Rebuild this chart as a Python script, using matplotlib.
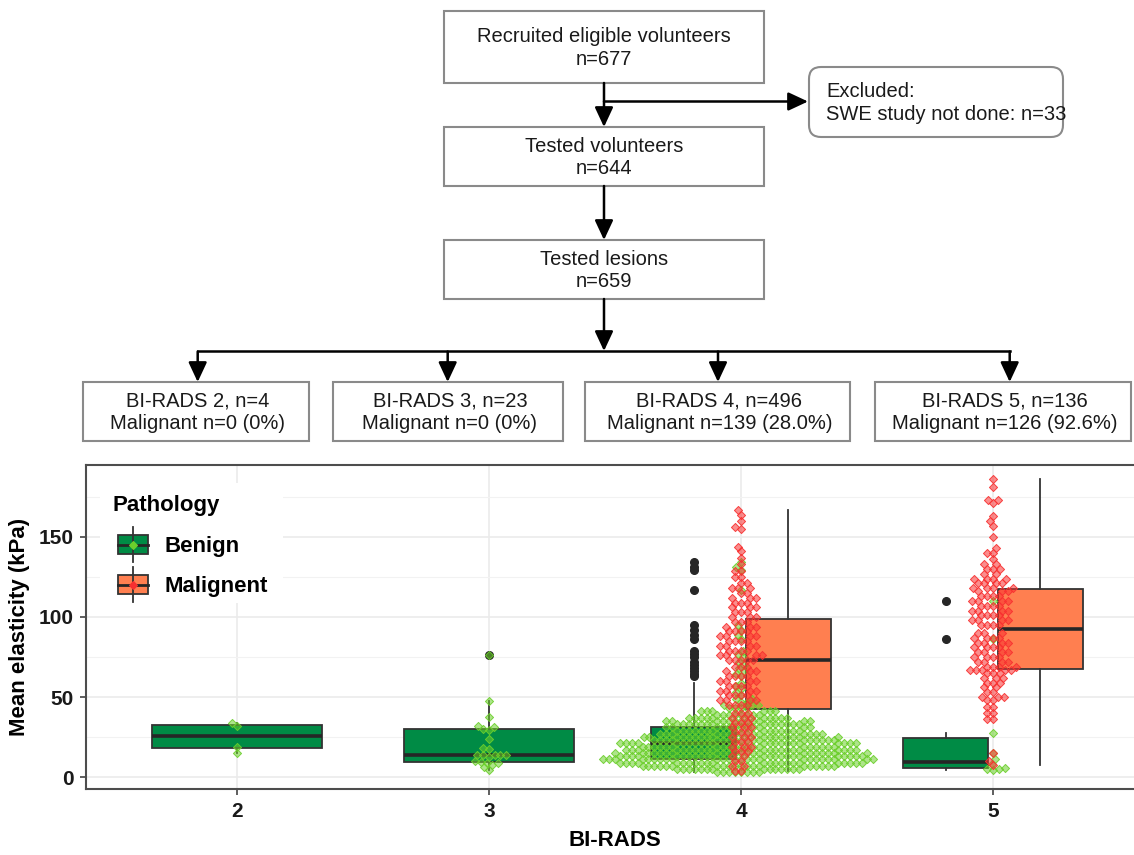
import numpy as np
import matplotlib
matplotlib.use("Agg")
import matplotlib.pyplot as plt
from matplotlib.patches import Rectangle, FancyBboxPatch, ArrowStyle

plt.rcParams['font.family'] = ['Liberation Sans', 'DejaVu Sans']

# ---- data ----
birads = ['2', '3', '4', '5']
n_lesions = [4, 23, 496, 136]
n_malignant = [0, 0, 139, 126]

flow_steps = ['Recruited eligible volunteers\nn=677', 'Tested volunteers\nn=644', 'Tested lesions\nn=659']
excluded_text = 'Excluded:\nSWE study not done: n=33'

benign_2 = [15, 19, 32, 34]
benign_3 = [4.5, 6, 7.5, 8.5, 9, 9.5, 9.7, 12.5, 13.5, 13.75, 13.75, 13.75, 14, 17.5, 18, 24,
            29.5, 30, 31, 32, 37.5, 47.5, 76]
benign_4_vals = [3, 5, 7, 9, 11, 13, 15, 17, 19, 21, 23, 25, 27, 29, 31, 33, 35, 37, 39, 41, 43, 45,
                 47, 49, 51, 53, 55, 57, 59, 63, 64.5, 66, 68, 70, 72, 75, 77, 79, 86, 89, 92, 95,
                 117, 129.4, 131.5, 134.6]
benign_4_counts = [8, 14, 20, 23, 25, 23, 22, 21, 20, 22, 18, 17, 15, 14, 12, 14, 12, 10, 8, 6, 4, 3,
                   2, 2, 1, 1, 1, 1, 1] + [1] * 17
benign_5 = [4.4, 5.0, 5.3, 5.7, 8.0, 11.2, 14.9, 27.3, 86.5, 110]

malig_4_vals = [4, 7, 10, 13, 16, 19, 22, 25, 28, 31, 34, 37, 40, 45, 48, 51, 54, 57, 60, 63, 66, 69,
                73, 76, 79, 82, 85, 88, 91, 94, 97, 100, 103, 106, 109, 112, 115, 118, 121, 125, 129,
                133, 137, 141, 144, 155, 156, 160, 164, 167]
malig_4_counts = [2, 2, 2, 2, 3, 3, 3, 3, 3, 3, 3, 3, 3, 4, 4, 4, 4, 4, 4, 4, 3, 3,
                  5, 4, 4, 4, 4, 4, 4, 3, 3, 3, 3, 3, 3, 3, 2, 3, 2, 2, 2,
                  1, 1, 1, 1, 1, 1, 1, 1, 1]
malig_5_vals = [7.5, 10, 15, 36, 40, 44, 48, 50, 53, 56, 59, 62, 65, 67, 69, 72, 75, 78, 81, 84, 87, 90,
                95, 98, 101, 104, 107, 110, 113, 116, 118, 121, 124, 127, 130, 133, 136, 140, 143, 150,
                157, 160, 163, 171, 173, 181, 186]
malig_5_counts = [1, 1, 1, 2, 2, 2, 2, 3, 2, 2, 3, 3, 3, 5, 4, 4, 4, 4, 4, 4, 4, 3,
                  4, 4, 4, 4, 4, 4, 4, 3, 4, 4, 4, 2, 3, 2, 1, 2, 1, 1, 1, 1, 1, 1, 2, 1, 1]

benign_4 = np.repeat(benign_4_vals, benign_4_counts)
malig_4 = np.repeat(malig_4_vals, malig_4_counts)
malig_5 = np.repeat(malig_5_vals, malig_5_counts)

benign = [benign_2, benign_3, benign_4, benign_5]
malignant = {2: malig_4, 3: malig_5}

box_green = '#008B45'
box_coral = '#FF7F50'
pt_green = '#6CCF2C'
pt_red = '#F83030'
dark = '#333333'

W, H = 1134, 855
fig = plt.figure(figsize=(W / 100, H / 100), dpi=100)
ax = fig.add_axes([85.8 / W, (H - 789) / H, 1058.4 / W, 324 / H])
ax.set_xlim(-0.6, 3.6)
ax.set_ylim(-7.5, 195)

# ---- boxplots (dodged) ----
dodge = 0.1875
b_pos = [0, 1, 2 - dodge, 3 - dodge]
b_w = [0.675, 0.675, 0.3375, 0.3375]
m_pos = [2 + dodge, 3 + dodge]
common = dict(patch_artist=True, showcaps=False, whis=1.5, manage_ticks=False,
              medianprops=dict(color='#262626', lw=2.6),
              boxprops=dict(edgecolor=dark, lw=1.3),
              whiskerprops=dict(color=dark, lw=1.3),
              flierprops=dict(marker='o', markerfacecolor='#262626', markeredgecolor='#262626',
                              markersize=5.5))
bp1 = ax.boxplot(benign, positions=b_pos, widths=b_w, **common)
bp2 = ax.boxplot([malig_4, malig_5], positions=m_pos, widths=[0.3375, 0.3375], **common)
for p in bp1['boxes']:
    p.set_facecolor(box_green)
for p in bp2['boxes']:
    p.set_facecolor(box_coral)

# ---- beeswarm points ----
px_x = ax.bbox.width / 4.2
px_y = ax.bbox.height / 202.5


def swarm_offsets(values, d=5.9):
    y = np.asarray(values, float) * px_y
    order = np.argsort(y, kind='stable')
    xs = np.zeros(len(y))
    done = []
    for i in order:
        near = [(px, py) for px, py in done if abs(py - y[i]) < d]
        cands = [0.0]
        for px, py in near:
            dx = np.sqrt(d * d - (py - y[i]) ** 2)
            cands += [px - dx, px + dx]
        cands.sort(key=abs)
        for c in cands:
            if all((c - px) ** 2 + (y[i] - py) ** 2 >= d * d - 1e-6 for px, py in near):
                break
        xs[i] = c
        done.append((c, y[i]))
    return xs / px_x


def draw_swarm(values, center, color):
    xs = swarm_offsets(values)
    ax.scatter(center + xs, values, marker='D', s=17, facecolor=matplotlib.colors.to_rgba(color, 0.55),
               edgecolor=matplotlib.colors.to_rgba(color, 0.9), lw=0.7, zorder=3)


for i, vals in enumerate(benign):
    draw_swarm(vals, i, pt_green)
for i, vals in malignant.items():
    draw_swarm(vals, i, pt_red)

# ---- axes styling ----
ax.set_xticks(range(4))
ax.set_xticklabels(birads, fontsize=15, fontweight='bold', color='#1a1a1a')
ax.set_yticks([0, 50, 100, 150])
ax.set_yticklabels(['0', '50', '100', '150'], fontsize=15, fontweight='bold', color='#1a1a1a')
ax.set_yticks([25, 75, 125, 175], minor=True)
ax.set_axisbelow(True)
ax.grid(which='major', color='#EBEBEB', lw=1.2)
ax.grid(which='minor', axis='y', color='#F2F2F2', lw=0.8)
ax.tick_params(which='major', length=4, width=1.1, color=dark, pad=5)
ax.tick_params(which='minor', length=0)
for s in ax.spines.values():
    s.set_color('#4d4d4d')
    s.set_linewidth(1.5)
ax.set_ylabel('Mean elasticity (kPa)', fontsize=16, fontweight='bold')
ax.yaxis.set_label_coords(-0.053, 0.5)
ax.set_xlabel('BI-RADS', fontsize=16, fontweight='bold')
ax.xaxis.set_label_coords(0.5, -0.125)

# ---- overlay in pixel units: legend and flow chart ----
ov = fig.add_axes([0, 0, 1, 1])
ov.set_xlim(0, W)
ov.set_ylim(H, 0)
ov.axis('off')

ov.add_patch(Rectangle((100, 483), 183, 120, facecolor='white', edgecolor='none'))
ov.text(113, 505, 'Pathology', fontsize=16, fontweight='bold', va='center', ha='left')
for top, fill, pc, lab in [(535, box_green, pt_green, 'Benign'), (575, box_coral, pt_red, 'Malignent')]:
    ov.plot([133, 133], [top - 8, top + 27], color=dark, lw=1.3)
    ov.add_patch(Rectangle((118, top), 30, 19, facecolor=fill, edgecolor=dark, lw=1.3))
    ov.plot([118, 148], [top + 9.5] * 2, color='#262626', lw=2)
    ov.scatter([133], [top + 9.5], marker='D', s=15, color=pc, zorder=5)
    ov.text(165, top + 11, lab, fontsize=16, fontweight='bold', va='center', ha='left')

tkw = dict(fontsize=14.5, color='#1a1a1a', ha='center', va='center', linespacing=1.25)
box_ec = '#8a8a8a'
main_boxes = [(444, 11, 764, 83), (444, 127, 764, 186), (444, 240, 764, 299)]
for (x0, y0, x1, y1), txt in zip(main_boxes, flow_steps):
    ov.add_patch(Rectangle((x0, y0), x1 - x0, y1 - y0, facecolor='white', edgecolor=box_ec, lw=1.5))
    ov.text((x0 + x1) / 2, (y0 + y1) / 2 + 1, txt, **tkw)

ov.add_patch(FancyBboxPatch((809, 67), 254, 70, boxstyle='round,pad=0,rounding_size=12',
                            facecolor='white', edgecolor=box_ec, lw=1.5))
ov.text(826, 103, excluded_text, fontsize=14.5, color='#1a1a1a', ha='left', va='center', linespacing=1.3)

bottom_boxes = [(83, 382, 309, 441), (333, 382, 563, 441), (585, 382, 850, 441), (875, 382, 1131, 441)]
for (x0, y0, x1, y1), b, n, m in zip(bottom_boxes, birads, n_lesions, n_malignant):
    pct = '0%' if m == 0 else f'{100 * m / n:.1f}%'
    ov.add_patch(Rectangle((x0, y0), x1 - x0, y1 - y0, facecolor='white', edgecolor=box_ec, lw=1.5))
    ov.text((x0 + x1) / 2 + 2, (y0 + y1) / 2 + 1, f'BI-RADS {b}, n={n}\nMalignant n={m} ({pct})', **tkw)

arr = dict(arrowstyle=ArrowStyle('-|>', head_length=0.6, head_width=0.28), mutation_scale=20,
           color='black', lw=1.8, shrinkA=0, shrinkB=0)
cx = 604
ov.annotate('', xy=(cx, 127), xytext=(cx, 83), arrowprops=arr)
ov.annotate('', xy=(808, 101.5), xytext=(cx, 101.5), arrowprops=arr)
ov.annotate('', xy=(cx, 240), xytext=(cx, 186), arrowprops=arr)
ov.annotate('', xy=(cx, 351), xytext=(cx, 299), arrowprops=arr)
arrow_x = [197.7, 447.7, 718, 1009.7]
ov.plot([arrow_x[0], arrow_x[-1]], [351.5, 351.5], color='black', lw=1.8)
for x in arrow_x:
    ov.annotate('', xy=(x, 382), xytext=(x, 351.5), arrowprops=arr)

fig.savefig('out.png', dpi=100)
